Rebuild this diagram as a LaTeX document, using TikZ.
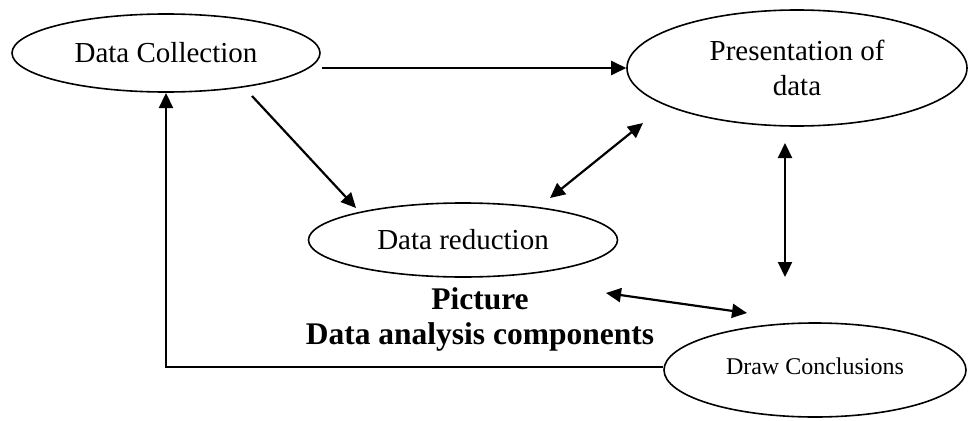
\documentclass[tikz,border=0pt]{standalone}
\usepackage{fontspec}
\setmainfont{Liberation Serif}
\usetikzlibrary{shapes.geometric,arrows.meta}
\begin{document}
\begin{tikzpicture}[x=1pt,y=-1pt,
  oval/.style={draw,ellipse,line width=1.6pt,inner sep=0pt,align=center},
  big/.style={font=\fontsize{29}{35}\selectfont},
  arr/.style={line width=2.2pt,-{Triangle[length=15pt,width=14pt]}},
  darr/.style={line width=2.2pt,{Triangle[length=15pt,width=14pt]}-{Triangle[length=15pt,width=14pt]}}]
\useasboundingbox (0,0) rectangle (968,420);
\fill[white] (0,0) rectangle (968,420);
\node[oval,big,minimum width=308pt,minimum height=78pt] (dc) at (166,53) {Data Collection};
\node[oval,big,minimum width=340pt,minimum height=116pt] (pd) at (797,68) {Presentation of\\data};
\node[oval,big,minimum width=309pt,minimum height=74pt] (dr) at (463,240) {Data reduction};
\node[oval,font=\fontsize{24}{28}\selectfont,minimum width=302pt,minimum height=94pt,text depth=0pt] (dcl) at (815,370) {\raisebox{8pt}{Draw Conclusions}};
\node[font=\bfseries\fontsize{31.5}{35}\selectfont,align=center] (cap) at (480,319) {Picture\\Data analysis components};
% coordinates
\coordinate (s1) at (322,68);
\coordinate (s2) at (252,96);
\coordinate (e2) at (356,208);
\coordinate (s3) at (550,198);
\coordinate (e3) at (643,123);
\coordinate (s4) at (785,143);
\coordinate (e4) at (785,277);
\coordinate (s5) at (606,293);
\coordinate (e5) at (747,313);
\coordinate (s6) at (663,367);
\coordinate (e6) at (166,93);
% connectors
\draw[arr] (s1) -- (pd.west);
\draw[arr] (s2) -- (e2);
\draw[darr] (s3) -- (e3);
\draw[darr] (s4) -- (e4);
\draw[darr] (s5) -- (e5);
\draw[arr] (s6) -| (e6);
\end{tikzpicture}
\end{document}
